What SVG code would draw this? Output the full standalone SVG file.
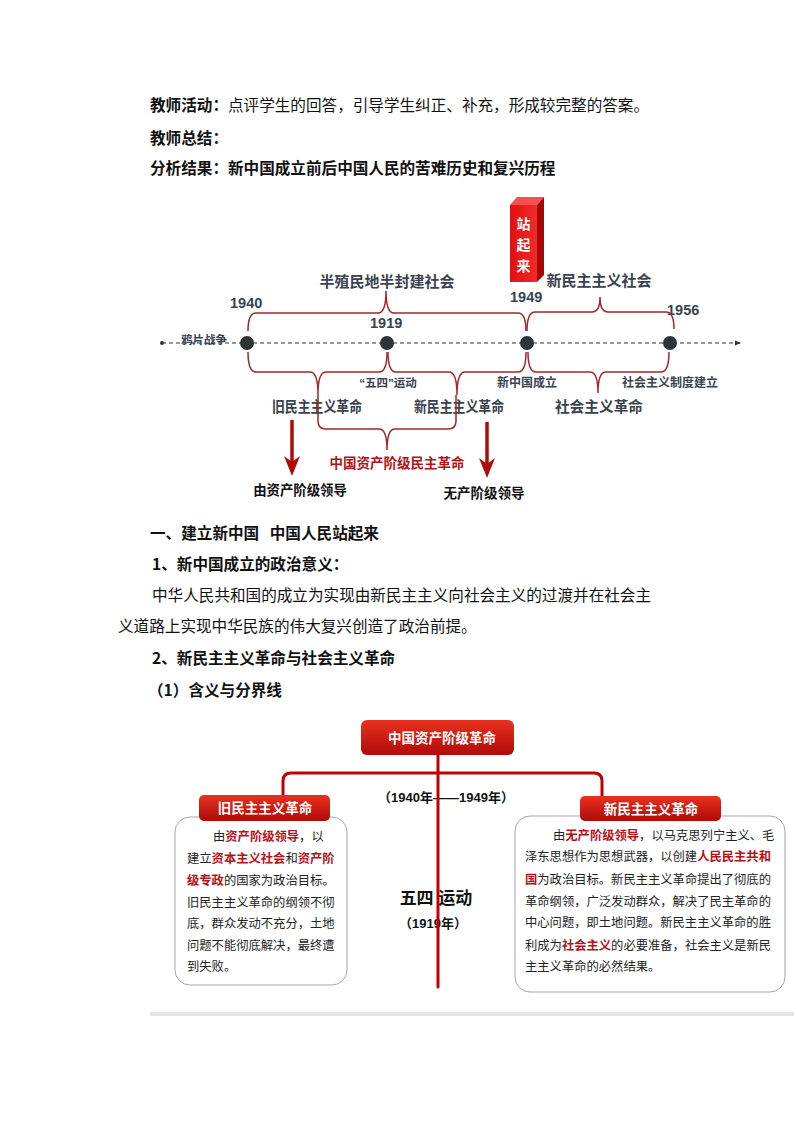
<svg xmlns="http://www.w3.org/2000/svg" width="794" height="1123" viewBox="0 0 794 1123">
<defs>
<linearGradient id="redg" x1="0" y1="0" x2="0" y2="1">
<stop offset="0" stop-color="#e8321f"/>
<stop offset="1" stop-color="#b00a0a"/>
</linearGradient>
<linearGradient id="front" x1="0" y1="0" x2="1" y2="0">
<stop offset="0" stop-color="#e21010"/>
<stop offset="1" stop-color="#f02a2a"/>
</linearGradient>
<marker id="axisArrow" markerWidth="6" markerHeight="6" refX="5" refY="3" orient="auto" markerUnits="userSpaceOnUse">
<path d="M0,0.5 L6,3 L0,5.5 Z" fill="#333"/>
</marker>
<style>
.body{font-family:"Noto Sans CJK SC","Liberation Sans",sans-serif;font-size:15.6px;fill:#111}
.b{font-weight:bold}
.tl{font-family:"Liberation Sans","Noto Sans CJK SC",sans-serif;font-weight:bold;fill:#3a4250}
.yr{font-size:14.5px}
.brace{fill:none;stroke:#a3262a;stroke-width:1.5}
.lbl{font-family:"Liberation Sans","Noto Sans CJK SC",sans-serif;font-weight:bold;fill:#fff;font-size:13.5px;text-anchor:middle}
.box{fill:#fff;stroke:#a6a6ae;stroke-width:1}
.txt{font-family:"Noto Sans CJK SC",sans-serif;font-size:12.3px;fill:#222}
.hl{fill:#b5121b;font-weight:bold}
.conn{fill:none;stroke:#c00000;stroke-width:3;stroke-linecap:round}
.arr{stroke:#b00a0a;stroke-width:3.5}
.head{fill:#b00a0a}
.st{font-family:"Noto Sans CJK SC",sans-serif;font-weight:bold;font-size:14px;fill:#fff;text-anchor:middle}
</style>
</defs>
<rect width="794" height="1123" fill="#fff"/>

<g id="header">
<text class="body" x="150" y="111"><tspan class="b">教师活动：</tspan>点评学生的回答，引导学生纠正、补充，形成较完整的答案。</text>
<text class="body b" x="150" y="144">教师总结：</text>
<text class="body b" x="150" y="174" font-size="16">分析结果：新中国成立前后中国人民的苦难历史和复兴历程</text>
</g>

<g id="timeline">
<line x1="162" y1="343" x2="740" y2="343" stroke="#333" stroke-width="1" stroke-dasharray="4 3" marker-end="url(#axisArrow)"/>
<circle cx="162" cy="343" r="2" fill="#333"/>
<g id="dot1940"><circle cx="247" cy="343" r="7" fill="#2f3438"/></g>
<g id="dot1919"><circle cx="387" cy="343" r="7" fill="#2f3438"/></g>
<g id="dot1949"><circle cx="527" cy="343" r="7" fill="#2f3438"/></g>
<g id="dot1956"><circle cx="670" cy="343" r="7" fill="#2f3438"/></g>

<text class="tl" x="181" y="344" font-size="11.5">鸦片战争</text>
<text class="tl yr" x="230" y="308">1940</text>
<text class="tl yr" x="370" y="328">1919</text>
<text class="tl yr" x="510" y="302">1949</text>
<text class="tl yr" x="667" y="315">1956</text>
<text class="tl" x="387" y="287" font-size="15" text-anchor="middle">半殖民地半封建社会</text>
<text class="tl" x="599" y="286" font-size="15" text-anchor="middle">新民主主义社会</text>

<g id="standup">
<polygon points="510,205 517,197 544,197 537,205" fill="#f45050"/>
<polygon points="537,205 544,197 544,275 537,282" fill="#a80606"/>
<rect x="510" y="205" width="27" height="77" fill="url(#front)"/>
<text class="st" x="523.5" y="229">站</text>
<text class="st" x="523.5" y="250">起</text>
<text class="st" x="523.5" y="271">来</text>
</g>

<text class="tl" x="388" y="387" font-size="11.5" text-anchor="middle">“五四”运动</text>
<text class="tl" x="527" y="387" font-size="12" text-anchor="middle">新中国成立</text>
<text class="tl" x="670" y="387" font-size="12" text-anchor="middle">社会主义制度建立</text>
<text class="tl" x="317" y="412" font-size="15" text-anchor="middle" textLength="90" lengthAdjust="spacingAndGlyphs">旧民主主义革命</text>
<text class="tl" x="459" y="412" font-size="15" text-anchor="middle" textLength="90" lengthAdjust="spacingAndGlyphs">新民主主义革命</text>
<text class="tl" x="599" y="412" font-size="14.7" text-anchor="middle">社会主义革命</text>
<text class="tl" x="397" y="468" font-size="13.5" text-anchor="middle" style="fill:#b0141a">中国资产阶级民主革命</text>
<text x="300" y="495" font-family="Liberation Sans,Noto Sans CJK SC,sans-serif" font-weight="bold" font-size="13.4" fill="#111" text-anchor="middle">由资产阶级领导</text>
<text x="484" y="498" font-family="Liberation Sans,Noto Sans CJK SC,sans-serif" font-weight="bold" font-size="13.5" fill="#111" text-anchor="middle">无产阶级领导</text>
</g>

<g id="braces">
<path class="brace" d="M248,331 Q248,313 256,313 L378,313 Q386,313 386,291 Q386,313 394,313 L518,313 Q526,313 526,331"/>
<path class="brace" d="M527,331 Q527,312 535,312 L592,312 Q600,312 600,297 Q600,312 608,312 L666,312 Q674,312 674,329"/>
<path class="brace" d="M248,352 Q248,372 256,372 L310,372 Q318,372 318,394 Q318,372 326,372 L379,372 Q387,372 387,352"/>
<path class="brace" d="M388,352 Q388,372 396,372 L449,372 Q457,372 457,395 Q457,372 465,372 L518,372 Q526,372 526,352"/>
<path class="brace" d="M528,352 Q528,372 536,372 L590,372 Q598,372 598,393 Q598,372 606,372 L661,372 Q669,372 669,352"/>
<path class="brace" d="M318,394 L318,421 Q318,429 326,429 L379,429 Q387,429 387,450 Q387,429 395,429 L448,429 Q456,429 456,421 L456,395"/>
</g>

<g id="arrows">
<line class="arr" x1="292" y1="420" x2="292" y2="462"/>
<polygon class="head" points="284,456 292,476 300,456 292,462"/>
<line class="arr" x1="487" y1="422" x2="487" y2="464"/>
<polygon class="head" points="479,458 487,478 495,458 487,464"/>
</g>

<g id="section">
<text class="body b" x="150" y="539">一、建立新中国&#160;&#160;&#160;中国人民站起来</text>
<text class="body b" x="152" y="570">1、新中国成立的政治意义：</text>
<text class="body" x="152" y="601">中华人民共和国的成立为实现由新民主主义向社会主义的过渡并在社会主</text>
<text class="body" x="118" y="632">义道路上实现中华民族的伟大复兴创造了政治前提。</text>
<text class="body b" x="152" y="664">2、新民主主义革命与社会主义革命</text>
<text class="body b" x="148" y="696">（1）含义与分界线</text>
</g>

<g id="old-box">
<rect class="box" x="175" y="817" width="172" height="168" rx="15"/>
<text class="txt" x="213" y="840.5">由<tspan class="hl">资产阶级领导</tspan>，以</text>
<text class="txt" x="187" y="862.5">建立<tspan class="hl">资本主义社会</tspan>和<tspan class="hl">资产阶</tspan></text>
<text class="txt" x="187" y="885"><tspan class="hl">级专政</tspan>的国家为政治目标。</text>
<text class="txt" x="187" y="906.5">旧民主主义革命的纲领不彻</text>
<text class="txt" x="187" y="928">底，群众发动不充分，土地</text>
<text class="txt" x="187" y="949.5">问题不能彻底解决，最终遭</text>
<text class="txt" x="187" y="971">到失败。</text>
</g>

<g id="new-box">
<rect class="box" x="515" y="816" width="270" height="176" rx="15"/>
<text class="txt" x="553" y="839.5">由<tspan class="hl">无产阶级领导</tspan>，以马克思列宁主义、毛</text>
<text class="txt" x="525" y="861">泽东思想作为思想武器，以创建<tspan class="hl">人民民主共和</tspan></text>
<text class="txt" x="525" y="884"><tspan class="hl">国</tspan>为政治目标。新民主主义革命提出了彻底的</text>
<text class="txt" x="525" y="905.5">革命纲领，广泛发动群众，解决了民主革命的</text>
<text class="txt" x="525" y="927">中心问题，即土地问题。新民主主义革命的胜</text>
<text class="txt" x="525" y="949.5">利成为<tspan class="hl">社会主义</tspan>的必要准备，社会主义是新民</text>
<text class="txt" x="525" y="970.5">主主义革命的必然结果。</text>
</g>

<g id="labels">
<text x="446" y="802" font-family="Liberation Sans,Noto Sans CJK SC,sans-serif" font-weight="bold" font-size="13" fill="#111" text-anchor="middle">（1940年——1949年）</text>
<text x="436" y="904" font-family="Liberation Sans,Noto Sans CJK SC,sans-serif" font-weight="bold" font-size="17" fill="#111" text-anchor="middle">五四 运动</text>
<text x="433" y="928" font-family="Liberation Sans,Noto Sans CJK SC,sans-serif" font-weight="bold" font-size="13" fill="#111" text-anchor="middle">（1919年）</text>
</g>

<g id="connectors">
<path class="conn" d="M283,796 L283,781 Q283,773 291,773 L594,773 Q602,773 602,781 L602,796"/>
<path class="conn" d="M438,755 L438,987"/>
</g>

<g id="top-node">
<rect x="361" y="720" width="153" height="35" rx="6" fill="url(#redg)"/>
<text class="lbl" x="442" y="743">中国资产阶级革命</text>
</g>
<g id="old-node">
<rect x="199" y="795" width="131" height="26" rx="5" fill="url(#redg)"/>
<text class="lbl" x="265" y="813">旧民主主义革命</text>
</g>
<g id="new-node">
<rect x="580" y="796" width="141" height="25" rx="5" fill="url(#redg)"/>
<text class="lbl" x="651" y="814">新民主主义革命</text>
</g>

<rect x="150" y="1012" width="644" height="4" fill="#e6e6e6"/>
</svg>
